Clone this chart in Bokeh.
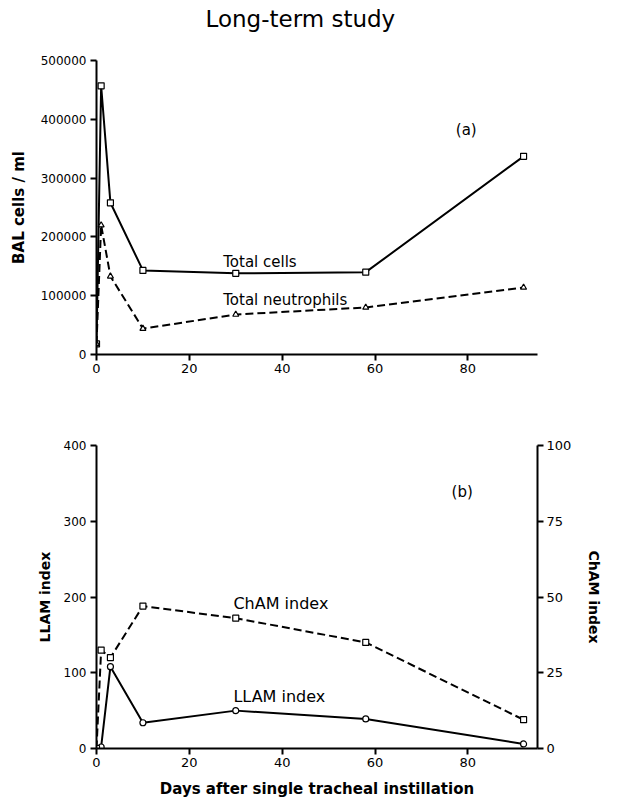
from bokeh.plotting import figure
from bokeh.models import Range1d, LinearAxis, FixedTicker, Label, BasicTickFormatter
from bokeh.layouts import column
from bokeh.embed import file_html
from bokeh.resources import INLINE

# ---- data ----
days = [0, 1, 3, 10, 30, 58, 92]
total_cells = [18000, 457000, 258000, 143000, 138000, 140000, 337000]
total_neutrophils = [18000, 220000, 133000, 44000, 68000, 80000, 114000]
llam_index = [0, 2, 108, 34, 50, 39, 6]
cham_index = [0, 32.5, 30, 47, 43, 35, 9.5]

x_ticks = [0, 20, 40, 60, 80]
bal_ticks = [0, 100000, 200000, 300000, 400000, 500000]
llam_ticks = [0, 100, 200, 300, 400]
cham_ticks = [0, 25, 50, 75, 100]

title_text = "Long-term study"

FONT = "DejaVu Sans"


def style_axis(ax, label_size="12px"):
    ax.axis_line_color = "black"
    ax.axis_line_width = 2
    ax.major_tick_line_color = "black"
    ax.major_tick_line_width = 2
    ax.major_tick_out = 6
    ax.major_tick_in = 0
    ax.minor_tick_line_color = None
    ax.major_label_text_font = FONT
    ax.major_label_text_font_size = label_size
    ax.major_label_text_color = "black"
    ax.axis_label_text_font = FONT
    ax.axis_label_text_font_style = "bold"
    ax.axis_label_text_color = "black"


# ---------------- title strip ----------------
p0 = figure(width=617, height=36, x_range=Range1d(0, 617), y_range=Range1d(0, 36),
            output_backend="svg", toolbar_location=None,
            x_axis_location=None, y_axis_location=None, min_border=0)
p0.outline_line_color = None
p0.grid.visible = False
p0.add_layout(Label(x=152.5, y=18, text=title_text, text_font=FONT, text_font_size="23px",
                    text_baseline="alphabetic", text_align="left", text_color="black"))

# ---------------- panel (a) ----------------
p1 = figure(width=617, height=364, x_range=Range1d(0, 95), y_range=Range1d(0, 500000),
            output_backend="svg", toolbar_location=None,
            min_border_left=96, min_border_right=80, min_border_top=24, min_border_bottom=46)
p1.outline_line_color = None
p1.grid.visible = False
p1.background_fill_color = "white"

p1.xaxis.ticker = FixedTicker(ticks=x_ticks)
p1.yaxis.ticker = FixedTicker(ticks=bal_ticks)
p1.yaxis.formatter = BasicTickFormatter(use_scientific=False)
for ax in p1.xaxis:
    style_axis(ax, "13px")
    ax.major_label_standoff = 3
for ax in p1.yaxis:
    style_axis(ax, "12px")
    ax.major_label_standoff = 4
    ax.axis_label = "BAL cells / ml"
    ax.axis_label_text_font_size = "15px"
    ax.axis_label_standoff = 10

p1.line(days, total_cells, line_color="black", line_width=2)
p1.line(days, total_neutrophils, line_color="black", line_width=2, line_dash="8 4")
p1.scatter(days, total_cells, marker="square", size=6, fill_color="white",
           line_color="black", line_width=1.2)
p1.scatter(days, total_neutrophils, marker="triangle", size=6, fill_color="white",
           line_color="black", line_width=1.2)

p1.add_layout(Label(x=77.4, y=381000, text="(a)", text_font=FONT, text_font_size="15px",
                    text_baseline="alphabetic", text_color="black"))
p1.add_layout(Label(x=27.3, y=157000, text="Total cells", text_font=FONT,
                    text_font_size="15px", text_baseline="alphabetic", text_color="black"))
p1.add_layout(Label(x=27.3, y=93000, text="Total neutrophils", text_font=FONT,
                    text_font_size="15px", text_baseline="alphabetic", text_color="black"))

# ---------------- panel (b) ----------------
p2 = figure(width=617, height=409, x_range=Range1d(0, 95), y_range=Range1d(0, 400),
            output_backend="svg", toolbar_location=None,
            min_border_left=96, min_border_right=70, min_border_top=45, min_border_bottom=61)
p2.outline_line_color = None
p2.grid.visible = False
p2.extra_y_ranges = {"right": Range1d(0, 100)}

p2.xaxis.ticker = FixedTicker(ticks=x_ticks)
p2.yaxis.ticker = FixedTicker(ticks=llam_ticks)
for ax in p2.xaxis:
    style_axis(ax, "13px")
    ax.major_label_standoff = 3
    ax.axis_label = "Days after single tracheal instillation"
    ax.axis_label_text_font_size = "15px"
    ax.axis_label_standoff = 10
for ax in p2.yaxis:
    style_axis(ax, "12px")
    ax.major_label_standoff = 4
    ax.axis_label = "LLAM index"
    ax.axis_label_text_font_size = "14px"
    ax.axis_label_standoff = 8

right_axis = LinearAxis(y_range_name="right", ticker=FixedTicker(ticks=cham_ticks),
                        axis_label="ChAM index")
style_axis(right_axis, "13px")
right_axis.major_label_standoff = 3
right_axis.axis_label_text_font_size = "14px"
right_axis.axis_label_standoff = 12
p2.add_layout(right_axis, "right")

p2.line(days, llam_index, line_color="black", line_width=2)
p2.line(days, cham_index, line_color="black", line_width=2, line_dash="8 4",
        y_range_name="right")
p2.scatter(days, llam_index, marker="circle", size=6, fill_color="white",
           line_color="black", line_width=1.2)
p2.scatter(days, cham_index, marker="square", size=6, fill_color="white",
           line_color="black", line_width=1.2, y_range_name="right")

p2.add_layout(Label(x=76.5, y=339, text="(b)", text_font=FONT, text_font_size="15px",
                    text_baseline="alphabetic", text_color="black"))
p2.add_layout(Label(x=29.5, y=192, text="ChAM index", text_font=FONT,
                    text_font_size="16px", text_baseline="alphabetic", text_color="black"))
p2.add_layout(Label(x=29.5, y=68, text="LLAM index", text_font=FONT,
                    text_font_size="16px", text_baseline="alphabetic", text_color="black"))

layout = column(p0, p1, p2, spacing=0)

open("out.html", "w").write(file_html(layout, INLINE))
